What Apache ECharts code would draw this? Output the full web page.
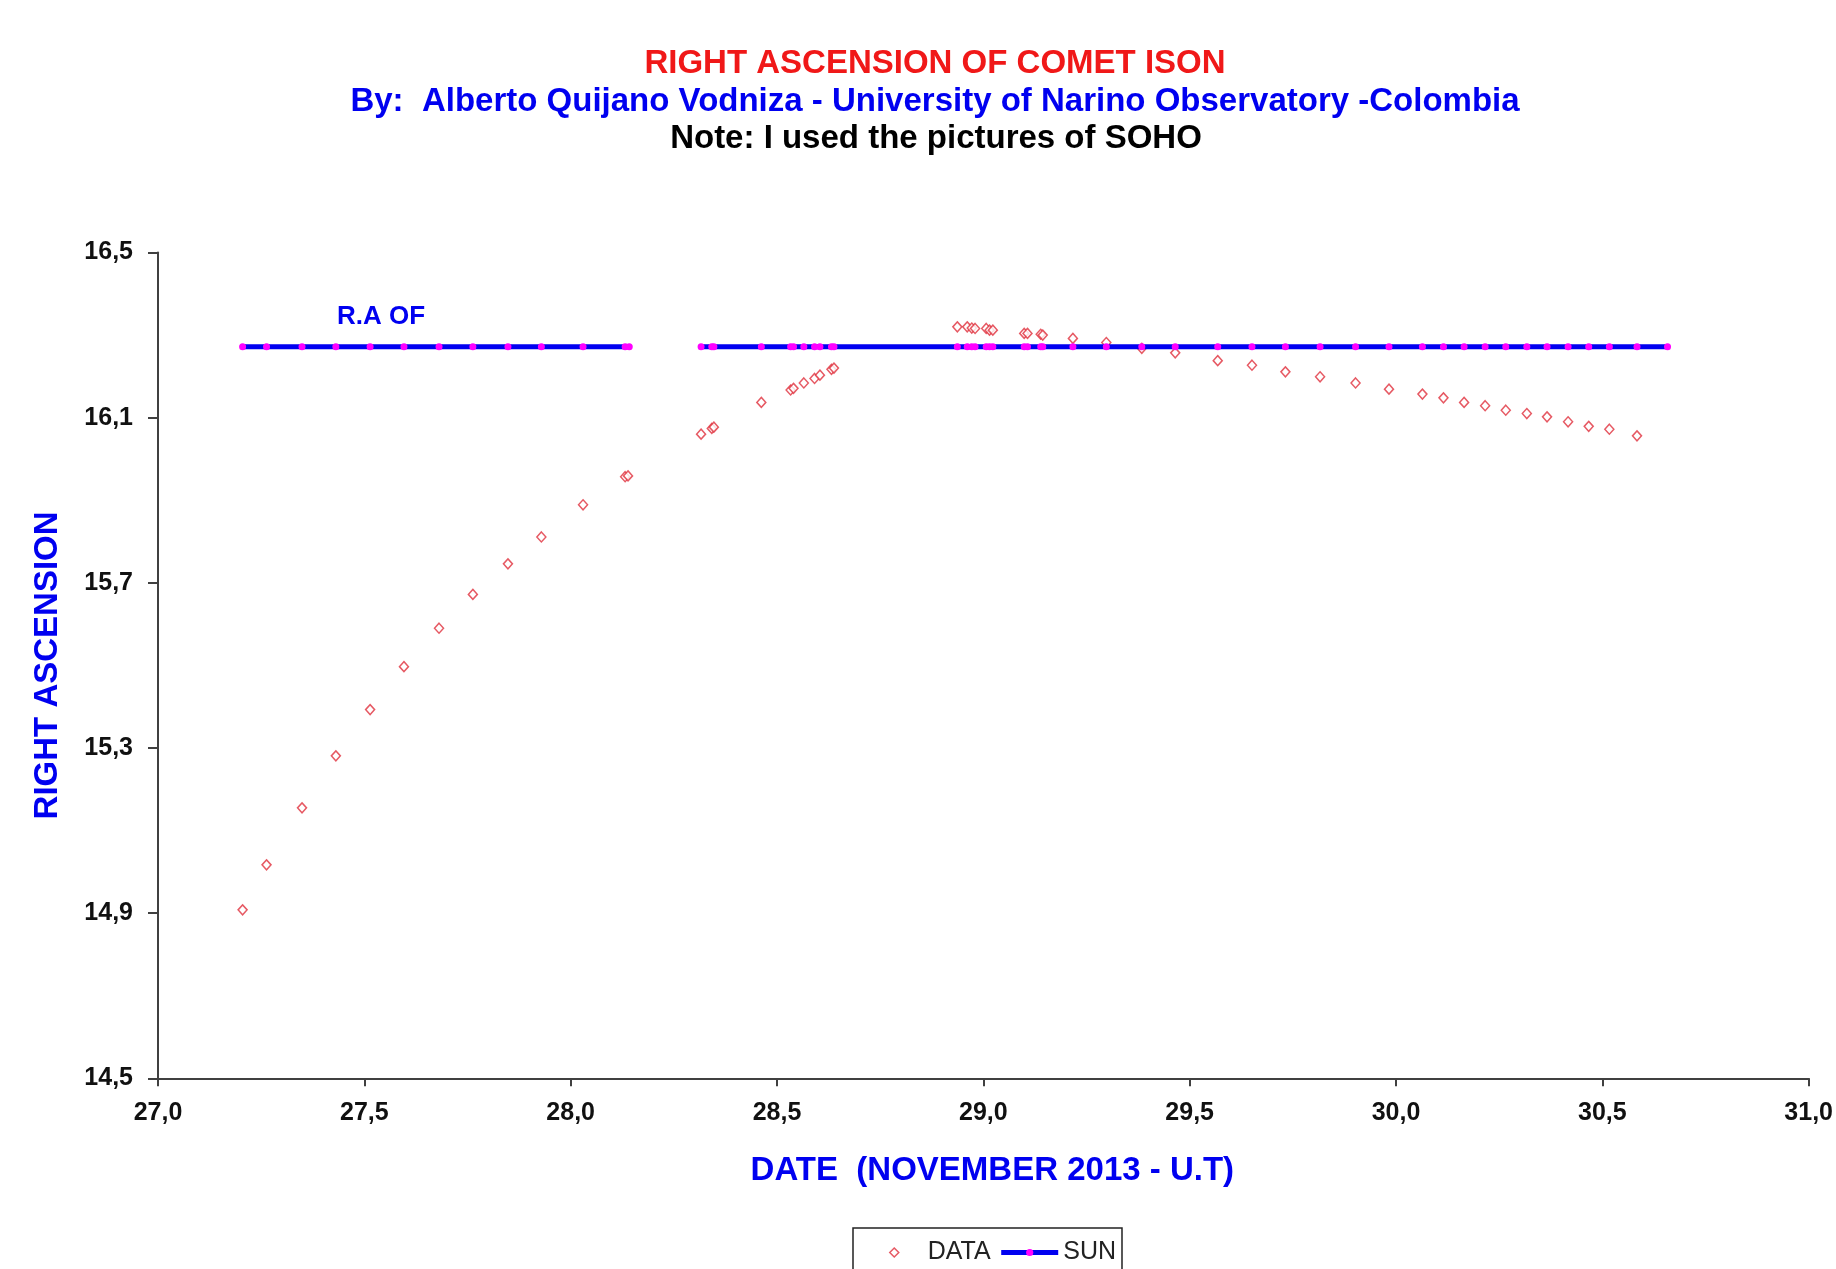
<!DOCTYPE html>
<html>
<head>
<meta charset="utf-8">
<script src="https://cdn.jsdelivr.net/npm/echarts@6/dist/echarts.min.js"></script>
<style>
html,body{margin:0;padding:0;background:#fff;}
#chart{width:1836px;height:1269px;}
</style>
</head>
<body>
<div id="chart"></div>
<script>
// ---- Data ----
const dataDates = [
  27.205, 27.263, 27.349, 27.431, 27.514, 27.596, 27.681, 27.763, 27.848, 27.929, 28.030, 28.132, 28.139,
  28.316, 28.342, 28.347, 28.462, 28.533, 28.540, 28.565, 28.591, 28.604, 28.632, 28.638,
  28.937, 28.961, 28.972, 28.980, 29.007, 29.015, 29.023, 29.099, 29.107, 29.139, 29.144, 29.217, 29.298,
  29.384, 29.465, 29.568, 29.651, 29.732, 29.816, 29.902, 29.983, 30.064, 30.115, 30.165, 30.216, 30.266,
  30.317, 30.366, 30.417, 30.467, 30.517, 30.584
];
const dataRA = [
  14.908, 15.017, 15.155, 15.281, 15.393, 15.497, 15.590, 15.672, 15.746, 15.811, 15.889, 15.957, 15.959,
  16.060, 16.074, 16.077, 16.137, 16.167, 16.171, 16.184, 16.195, 16.203, 16.217, 16.220,
  16.320, 16.320, 16.317, 16.316, 16.316, 16.312, 16.312, 16.304, 16.304, 16.302, 16.300, 16.292, 16.282,
  16.268, 16.257, 16.238, 16.227, 16.211, 16.199, 16.184, 16.169, 16.157, 16.148, 16.137, 16.129, 16.118,
  16.110, 16.102, 16.090, 16.079, 16.072, 16.056
];
const sunDates = [
  27.205, 27.263, 27.349, 27.431, 27.514, 27.596, 27.681, 27.763, 27.848, 27.929, 28.030, 28.132, 28.142,
  28.220,
  28.316, 28.342, 28.347, 28.462, 28.533, 28.540, 28.565, 28.591, 28.604, 28.632, 28.638,
  28.937, 28.961, 28.972, 28.980, 29.007, 29.015, 29.023, 29.099, 29.107, 29.139, 29.144, 29.217, 29.298,
  29.384, 29.465, 29.568, 29.651, 29.732, 29.816, 29.902, 29.983, 30.064, 30.115, 30.165, 30.216, 30.266,
  30.317, 30.366, 30.417, 30.467, 30.517, 30.584, 30.658
];
const sunRA = [
  16.272, 16.272, 16.272, 16.272, 16.272, 16.272, 16.272, 16.272, 16.272, 16.272, 16.272, 16.272, 16.272,
  null,
  16.272, 16.272, 16.272, 16.272, 16.272, 16.272, 16.272, 16.272, 16.272, 16.272, 16.272,
  16.272, 16.272, 16.272, 16.272, 16.272, 16.272, 16.272, 16.272, 16.272, 16.272, 16.272, 16.272, 16.272,
  16.272, 16.272, 16.272, 16.272, 16.272, 16.272, 16.272, 16.272, 16.272, 16.272, 16.272, 16.272, 16.272,
  16.272, 16.272, 16.272, 16.272, 16.272, 16.272, 16.272
];
const yTicks = [14.5, 14.9, 15.3, 15.7, 16.1, 16.5];
const titleText = 'RIGHT ASCENSION OF COMET ISON';
const subText = 'By:  Alberto Quijano Vodniza - University of Narino Observatory -Colombia';
const noteText = 'Note: I used the pictures of SOHO';
const innerLabel = 'R.A OF';
const xName = 'DATE  (NOVEMBER 2013 - U.T)';
const yName = 'RIGHT ASCENSION';

const FF = '"Liberation Sans", Arial, sans-serif';
const BLUE = '#0000f0';
const comma = v => Number(v).toFixed(1).replace('.', ',');
const diamondIcon = 'path://M0,-10 L10,0 L0,10 L-10,0 Z';

const chart = echarts.init(document.getElementById('chart'), null, {renderer: 'canvas'});
chart.setOption({
  animation: false,
  backgroundColor: '#ffffff',
  grid: {left: 158, right: 22, top: 252.5, bottom: 190.7, containLabel: false},
  graphic: [
    {type: 'text', x: 935, y: 63.5, style: {text: titleText, fill: '#f01818', font: 'bold 33px ' + FF, align: 'center', verticalAlign: 'middle', textAlign: 'center', textVerticalAlign: 'middle'}},
    {type: 'text', x: 935, y: 101.5, style: {text: subText, fill: BLUE, font: 'bold 33px ' + FF, align: 'center', verticalAlign: 'middle', textAlign: 'center', textVerticalAlign: 'middle'}},
    {type: 'text', x: 936, y: 139, style: {text: noteText, fill: '#000', font: 'bold 33px ' + FF, align: 'center', verticalAlign: 'middle', textAlign: 'center', textVerticalAlign: 'middle'}},
    {type: 'text', x: 337, y: 317, style: {text: innerLabel, fill: BLUE, font: 'bold 26px ' + FF, align: 'left', verticalAlign: 'middle', textAlign: 'left', textVerticalAlign: 'middle'}}
  ],
  legend: {
    left: 853, top: 1228,
    padding: [12, 6, 14, 36],
    borderColor: '#222', borderWidth: 1.5, backgroundColor: '#fff',
    itemWidth: 57, itemHeight: 9, itemGap: 8,
    symbolKeepAspect: true,
    lineStyle: {width: 5},
    textStyle: {fontSize: 25, color: '#222', fontFamily: FF},
    data: [
      {name: 'DATA', icon: diamondIcon, symbolKeepAspect: true,
       itemStyle: {color: '#ffffff', borderColor: '#e0303c', borderWidth: 1.5}},
      {name: 'SUN', lineStyle: {width: 5, color: BLUE}}
    ]
  },
  xAxis: {
    type: 'value', min: 27, max: 31, interval: 0.5,
    name: xName, nameLocation: 'middle', nameGap: 76,
    nameTextStyle: {fontSize: 33, fontWeight: 'bold', color: BLUE, fontFamily: FF, padding: [0, 0, 0, 18]},
    axisLine: {show: true, lineStyle: {color: '#404040', width: 2}},
    axisTick: {show: true, length: 8, lineStyle: {color: '#404040', width: 2}},
    axisLabel: {fontSize: 25, fontWeight: 'bold', color: '#111', fontFamily: FF, margin: 22, formatter: comma, showMaxLabel: true, showMinLabel: true},
    splitLine: {show: false}
  },
  yAxis: {
    type: 'value', min: 14.5, max: 16.5,
    name: yName, nameLocation: 'middle', nameRotate: 90, nameGap: 94,
    nameTextStyle: {fontSize: 33, fontWeight: 'bold', color: BLUE, fontFamily: FF},
    axisLine: {show: true, lineStyle: {color: '#404040', width: 2}},
    axisTick: {show: true, length: 10, customValues: yTicks, lineStyle: {color: '#404040', width: 2}},
    axisLabel: {fontSize: 25, fontWeight: 'bold', color: '#111', fontFamily: FF, margin: 25, customValues: yTicks, formatter: comma},
    splitLine: {show: false}
  },
  series: [
    {
      name: 'DATA', type: 'scatter',
      symbol: 'diamond', symbolSize: [9, 10],
      itemStyle: {color: '#ffffff', borderColor: '#e0303c', borderWidth: 1.5},
      data: dataDates.map((d, i) => [d, dataRA[i]]),
      z: 2
    },
    {
      name: 'SUN', type: 'line',
      symbol: 'circle', symbolSize: 7, showAllSymbol: true,
      connectNulls: false,
      itemStyle: {color: '#ff00ff'},
      lineStyle: {color: BLUE, width: 5},
      data: sunDates.map((d, i) => [d, sunRA[i] === null ? '-' : sunRA[i]]),
      z: 3
    }
  ]
});
</script>
</body>
</html>
